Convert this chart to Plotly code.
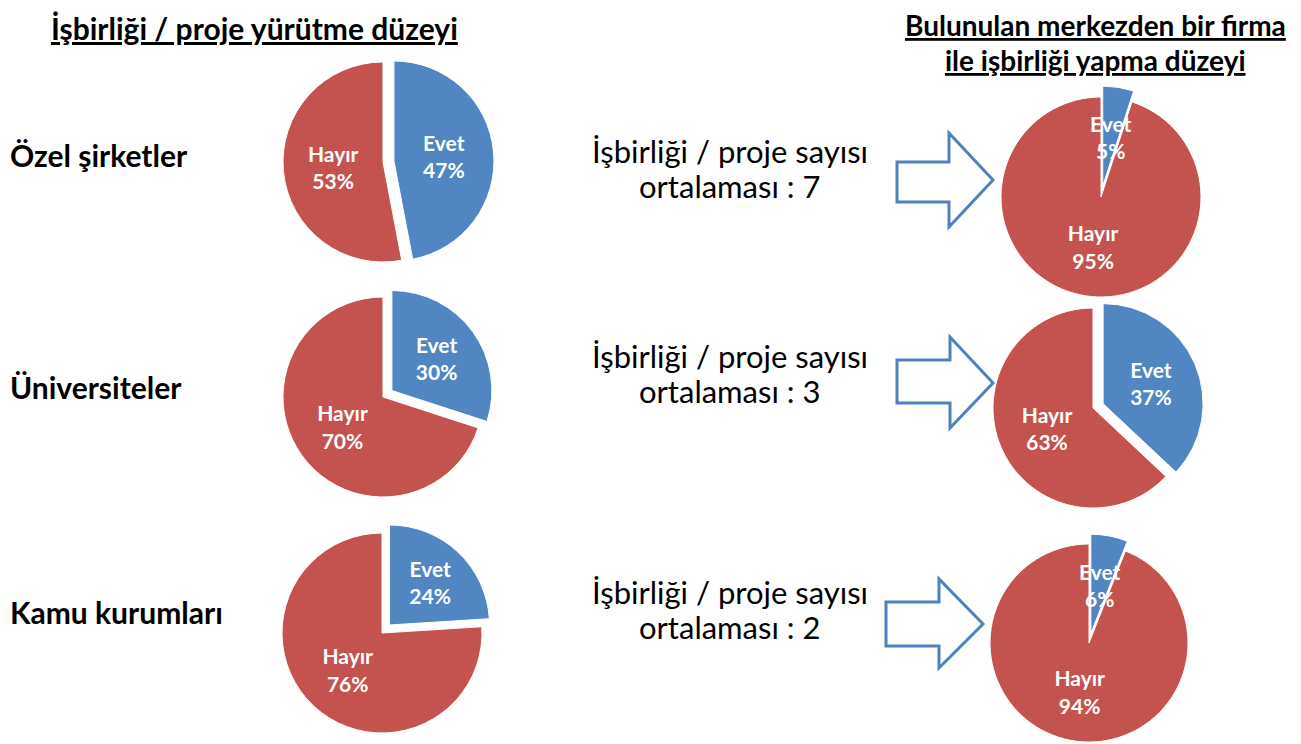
import math
import plotly.graph_objects as go

# veriler
dilimler = ["Evet", "Hayır"]
kurumlar = ["Özel şirketler", "Üniversiteler", "Kamu kurumları"]
yurutme_evet = [47, 30, 24]
yurutme_hayir = [53, 70, 76]
firma_evet = [5, 37, 6]
firma_hayir = [95, 63, 94]
proje_ortalama = [7, 3, 2]

W, H = 1301, 744
OFF = 8  # sayfa govdesinin kenar boslugu
renkler = ["#5186C2", "#C4534F"]
FONT = "Lato"
ETIKET = 21

fig = go.Figure()
ann = []


def px(x):
    return (x - OFF) / W


def py(y):
    return 1 - (y - OFF) / H


def pasta(evet, hayir, cx, cy, r, pull):
    # alan: merkez ve yaricaptan, cekilen dilim icin pay birakarak
    s = r * (1 + pull)
    kucuk = evet < 10
    tpl = ["" if kucuk else "%{label}<br>%{percent:.0%}", "%{label}<br>%{percent:.0%}"]
    fig.add_trace(go.Pie(
        labels=dilimler, values=[evet, hayir],
        sort=False, direction="clockwise", rotation=0,
        pull=[pull, 0],
        marker=dict(colors=renkler, line=dict(color="white", width=1)),
        texttemplate=tpl,
        textposition="inside", insidetextorientation="horizontal",
        insidetextfont=dict(family=FONT, size=ETIKET, color="white", weight="bold"),
        domain=dict(x=[max(px(cx - s), 0), min(px(cx + s), 1)],
                    y=[max(py(cy + s), 0), min(py(cy - s), 1)]),
        hoverinfo="skip", showlegend=False,
    ))
    if kucuk:
        # ince dilimde etiket dilimin disina tasiyor
        aci = math.radians(evet / (evet + hayir) * 360 / 2)
        rr = r * (0.5 + pull)
        ann.append(dict(x=px(cx + rr * math.sin(aci)), y=py(cy - rr * math.cos(aci)),
                        text="Evet<br>%d%%" % round(100 * evet / (evet + hayir)),
                        font=dict(family=FONT, size=ETIKET, color="white", weight="bold")))


sol = [(383, 162), (383, 397), (382, 633)]
sag = [(1101, 197), (1093, 408), (1089, 643)]
for i in range(3):
    pasta(yurutme_evet[i], yurutme_hayir[i], sol[i][0], sol[i][1], 100, 0.11)
    if i < 2:
        pasta(firma_evet[i], firma_hayir[i], sag[i][0], sag[i][1], 100, 0.11)
    else:
        pasta(firma_evet[i], firma_hayir[i], sag[i][0], sag[i][1], 99, 0.1)

# basliklar
ann.append(dict(x=px(254), y=1, yanchor="top", text="İşbirliği / proje yürütme düzeyi",
                font=dict(family=FONT, size=30, color="black", weight="bold", lineposition="under")))
ann.append(dict(x=px(1095), y=py(25), text="Bulunulan merkezden bir firma",
                font=dict(family=FONT, size=28, color="black", weight="bold", lineposition="under")))
ann.append(dict(x=px(1095), y=py(60), text="ile işbirliği yapma düzeyi",
                font=dict(family=FONT, size=28, color="black", weight="bold", lineposition="under")))

satir_y = [155, 387, 612]
orta_y = [151, 356, 592]
for i in range(3):
    ann.append(dict(x=px(8), y=py(satir_y[i]), text=kurumlar[i], xanchor="left",
                    font=dict(family=FONT, size=30, color="black", weight="bold")))
    ann.append(dict(x=px(730), y=py(orta_y[i]), text="İşbirliği / proje sayısı",
                    font=dict(family=FONT, size=31, color="black")))
    ann.append(dict(x=px(730), y=py(orta_y[i] + 35), text="ortalaması : %d" % proje_ortalama[i],
                    font=dict(family=FONT, size=31, color="black")))
for a in ann:
    a.update(xref="paper", yref="paper", showarrow=False, align="center")
    a.setdefault("xanchor", "center")
    a.setdefault("yanchor", "middle")

# oklar
oklar = [
    (897, 162, 202, 949, 133, 227, 993, 180),
    (897, 360, 403, 950, 337, 428, 993, 383),
    (886, 602, 646, 939, 579, 668, 983, 624),
]
shapes = []
for (x0, st, sb, hx, ht, hb, tx, ty) in oklar:
    pts = [(x0, st), (hx, st), (hx, ht), (tx, ty), (hx, hb), (hx, sb), (x0, sb)]
    path = "M " + " L ".join("%f,%f" % (px(a), py(b)) for a, b in pts) + " Z"
    shapes.append(dict(type="path", xref="paper", yref="paper", path=path,
                       line=dict(color="#4F81BD", width=3), fillcolor="rgba(0,0,0,0)"))

fig.update_layout(
    width=W, height=H, margin=dict(l=0, r=0, t=0, b=0),
    paper_bgcolor="white", plot_bgcolor="white",
    annotations=ann, shapes=shapes,
    uniformtext=dict(minsize=ETIKET, mode="show"),
    font=dict(family=FONT),
)

fig.write_html("out.html")
